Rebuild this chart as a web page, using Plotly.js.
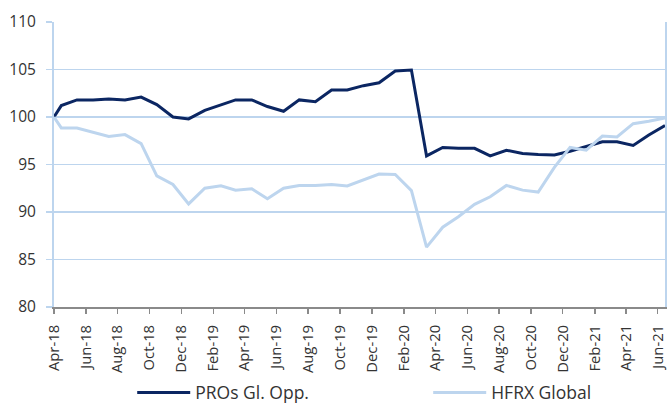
<!DOCTYPE html>
<html>
<head>
<meta charset="utf-8">
<script src="https://cdn.plot.ly/plotly-3.0.1.min.js"></script>
<style>html,body{margin:0;padding:0;background:#fff;}#chart{width:667px;height:407px;}</style>
</head>
<body>
<div id="chart"></div>
<script>
// x dates: base point at start, then monthly observations
const dates = [
  '2018-04-01',
  '2018-04-15','2018-05-15','2018-06-15','2018-07-15','2018-08-15','2018-09-15',
  '2018-10-15','2018-11-15','2018-12-15','2019-01-15','2019-02-15','2019-03-15',
  '2019-04-15','2019-05-15','2019-06-15','2019-07-15','2019-08-15','2019-09-15',
  '2019-10-15','2019-11-15','2019-12-15','2020-01-15','2020-02-15','2020-03-15',
  '2020-04-15','2020-05-15','2020-06-15','2020-07-15','2020-08-15','2020-09-15',
  '2020-10-15','2020-11-15','2020-12-15','2021-01-15','2021-02-15','2021-03-15',
  '2021-04-15','2021-05-15','2021-06-15'
];
const prosGlOpp = [
  100,
  101.2, 101.8, 101.8, 101.9, 101.8, 102.1,
  101.3, 100.0, 99.8, 100.7, 101.3, 101.8,
  101.8, 101.1, 100.6, 101.8, 101.6, 102.85,
  102.85, 103.3, 103.6, 104.85, 104.95, 95.9,
  96.8, 96.7, 96.7, 95.9, 96.5, 96.15,
  96.05, 96.0, 96.4, 96.9, 97.4, 97.4,
  97.0, 98.1, 99.1
];
const hfrxGlobal = [
  100,
  98.85, 98.85, 98.4, 97.95, 98.15, 97.2,
  93.8, 92.9, 90.85, 92.5, 92.75, 92.3,
  92.45, 91.4, 92.5, 92.8, 92.8, 92.9,
  92.75, 93.4, 94.0, 93.95, 92.25, 86.3,
  88.4, 89.5, 90.8, 91.6, 92.8, 92.3,
  92.1, 94.7, 96.8, 96.5, 98.0, 97.9,
  99.3, 99.55, 99.9
];
const seriesNames = ['PROs Gl. Opp.', 'HFRX Global'];

const dark = '#0b2662';
const light = '#bdd5ee';
const grid = '#bdd5ee';
const txt = '#333333';

const traces = [
  {x: dates, y: prosGlOpp, name: seriesNames[0], type: 'scatter', mode: 'lines',
   line: {color: dark, width: 3}},
  {x: dates, y: hfrxGlobal, name: seriesNames[1], type: 'scatter', mode: 'lines',
   line: {color: light, width: 3}}
];

const layout = {
  width: 667, height: 407,
  margin: {l: 54, r: 2, t: 22, b: 100, autoexpand: false},
  paper_bgcolor: '#ffffff', plot_bgcolor: '#ffffff',
  font: {family: 'Open Sans, sans-serif', color: txt, size: 13},
  showlegend: true,
  legend: {orientation: 'h', x: 0.128, xanchor: 'left', y: -0.3, yanchor: 'middle',
           bgcolor: 'rgba(0,0,0,0)',
           font: {size: 17.5, color: txt}, entrywidth: 228, itemwidth: 53, traceorder: 'normal'},
  xaxis: {
    type: 'date',
    range: ['2018-04-01', '2021-06-15'],
    tick0: '2018-04-01', dtick: 'M2', tickformat: '%b-%y',
    tickangle: -90, tickfont: {size: 14.8, color: txt},
    ticklabeloverflow: 'allow',
    showgrid: false, zeroline: false,
    showline: true, linecolor: '#8a8a8a', linewidth: 2,
    ticks: 'outside', ticklen: 5, tickcolor: '#8a8a8a', tickwidth: 1.5,
    ticklabelstandoff: 5
  },
  yaxis: {
    range: [80, 110], dtick: 5, tick0: 80,
    tickfont: {size: 15.5, color: txt},
    showgrid: true, gridcolor: grid, gridwidth: 1.5, zeroline: false,
    showline: true, linecolor: grid, linewidth: 2, mirror: true,
    ticks: 'outside', ticklen: 6, tickcolor: grid, tickwidth: 1.5,
    ticklabelstandoff: 7
  }
};

Plotly.newPlot('chart', traces, layout, {staticPlot: true, displayModeBar: false});
</script>
</body>
</html>
